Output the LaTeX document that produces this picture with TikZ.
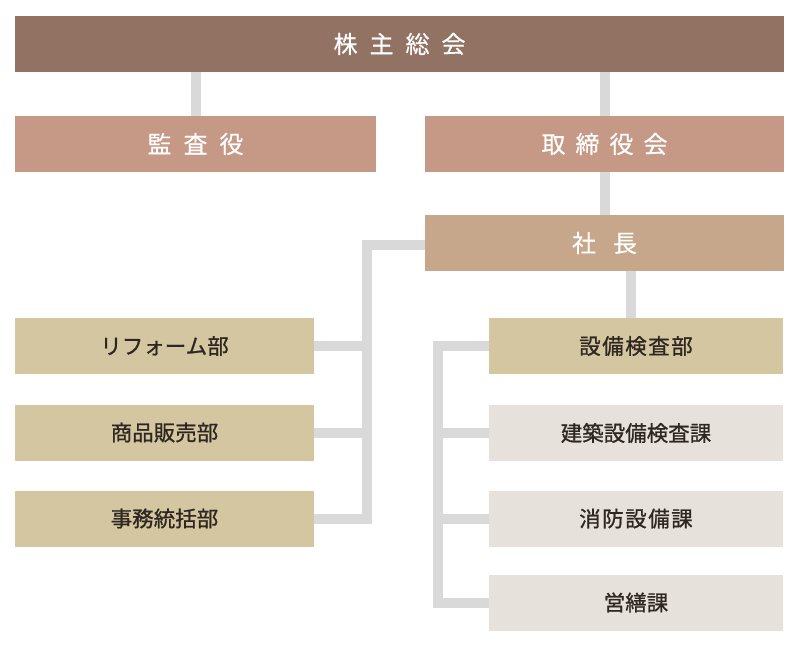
\documentclass[tikz,border=0pt]{standalone}
\usepackage{fontspec}
\setmainfont{Noto Sans CJK JP}
\newfontfamily\jpmed[FakeBold=0.9]{Noto Sans CJK JP}
\newfontfamily\jplight[FakeBold=0.4]{Noto Sans CJK JP}
\usetikzlibrary{backgrounds}
\definecolor{cTop}{HTML}{917263}
\definecolor{cSecond}{HTML}{C69886}
\definecolor{cPres}{HTML}{C7A78C}
\definecolor{cBeige}{HTML}{D4C6A0}
\definecolor{cLight}{HTML}{E6E1DA}
\definecolor{cConn}{HTML}{D9D9D9}
\definecolor{cDark}{HTML}{2E2620}
\tikzset{
  box/.style={rectangle, inner sep=0pt, minimum height=56pt},
  whitebox/.style={box, text=white, font=\jplight\fontsize{24}{26}\selectfont},
  darkbox/.style={box, text=cDark, font=\jpmed\fontsize{21.5}{24}\selectfont},
  conn/.style={draw=cConn, line width=10pt, line join=miter, line cap=butt},
}
\begin{document}
\begin{tikzpicture}[x=1pt,y=-1pt]
\useasboundingbox (0,0) rectangle (800,648);
% top levels
\node[whitebox, fill=cTop, minimum width=769pt] (top) at (399.5,44) {株\kern12pt 主\kern12pt 総\kern12pt 会};
\node[whitebox, fill=cSecond, minimum width=361pt] (kansa) at (195.5,144) {監\kern12pt 査\kern12pt 役};
\node[whitebox, fill=cSecond, minimum width=359pt] (tori) at (604.5,144) {取\kern10pt 締\kern10pt 役\kern10pt 会};
\node[whitebox, fill=cPres, minimum width=359pt] (shacho) at (604.5,243) {社\kern17pt 長};
% left departments
\node[darkbox, fill=cBeige, minimum width=299pt] (reform) at (164.5,346) {リフォーム部};
\node[darkbox, fill=cBeige, minimum width=299pt] (shohin) at (164.5,432.5) {商品販売部};
\node[darkbox, fill=cBeige, minimum width=299pt] (jimu) at (164.5,518.5) {事務統括部};
% right department and sections
\node[darkbox, fill=cBeige, minimum width=294pt] (setsubi) at (636,346) {設\kern1.5pt 備\kern1.5pt 検\kern1.5pt 査\kern1.5pt 部};
\node[darkbox, fill=cLight, minimum width=294pt] (kenchiku) at (636,433) {建築設備検査課};
\node[darkbox, fill=cLight, minimum width=294pt] (shobo) at (636,518.5) {消\kern1.5pt 防\kern1.5pt 設\kern1.5pt 備\kern1.5pt 課};
\node[darkbox, fill=cLight, minimum width=294pt] (eizen) at (636,602.5) {営繕課};
% bus coordinates
\coordinate (lbus) at (367,0);
\coordinate (rbus) at (438,0);
\coordinate (sx) at (631,0);
\begin{scope}[on background layer]
  \fill[white] (0,0) rectangle (800,648);
  \draw[conn] (top.center -| kansa) -- (kansa.center);
  \draw[conn] (top.center -| tori) -- (tori.center);
  \draw[conn] (tori.center) -- (shacho.center);
  \draw[conn] (shacho.center |- 0,245) -- (lbus |- 0,245) -- (lbus |- jimu) -- (jimu.center);
  \draw[conn] (reform.center) -- (reform -| lbus);
  \draw[conn] (shohin.center) -- (shohin -| lbus);
  \draw[conn] (shacho -| sx) -- (setsubi -| sx);
  \draw[conn] (setsubi.center) -- (setsubi -| rbus) -- (eizen -| rbus) -- (eizen.center);
  \draw[conn] (kenchiku.center) -- (kenchiku -| rbus);
  \draw[conn] (shobo.center) -- (shobo -| rbus);
\end{scope}
\end{tikzpicture}
\end{document}
